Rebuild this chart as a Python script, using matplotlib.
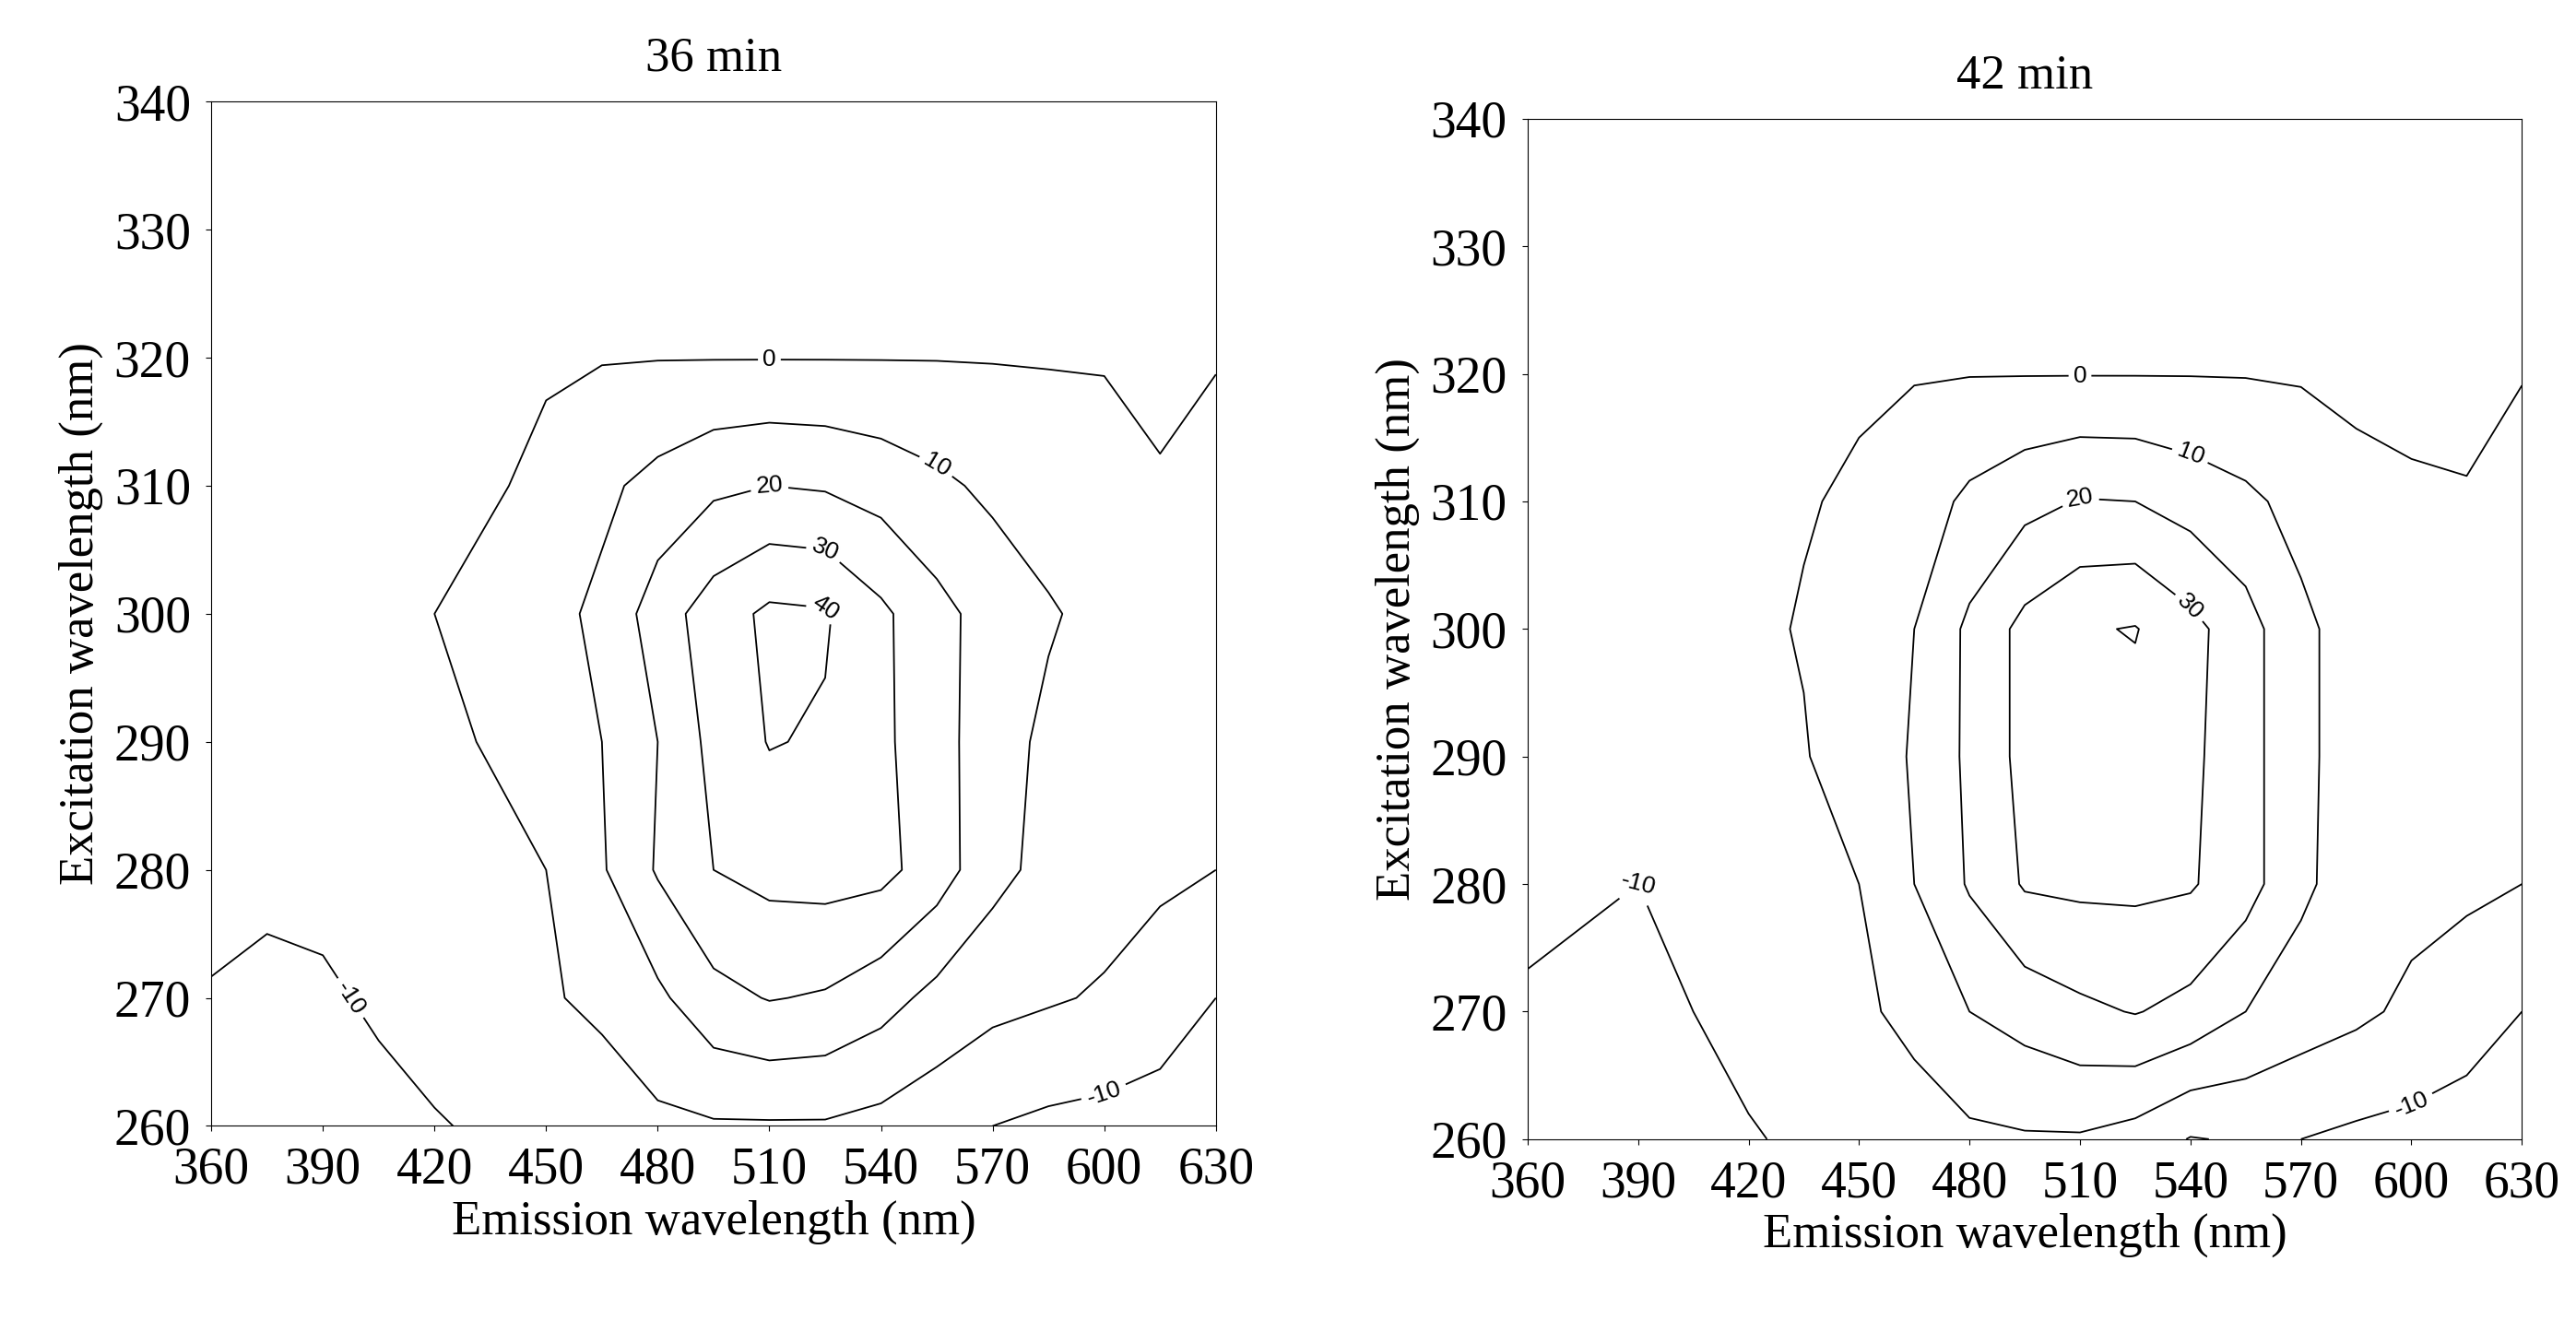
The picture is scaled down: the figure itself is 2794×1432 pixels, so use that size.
import matplotlib.pyplot as plt
import numpy as np

plt.rcParams['contour.negative_linestyle'] = 'solid'

# emission (x) and excitation (y) grid, nm
emission = [360, 375, 390, 405, 420, 435, 450, 465, 480, 495, 510, 525, 540, 555, 570, 585, 600, 615, 630]
excitation = [260, 270, 280, 290, 300, 310, 320, 330, 340]
levels = [-10, 0, 10, 20, 30, 40]

# 36 min, rows follow excitation
z_36 = [
    [-14, -14, -13, -12, -10.5, -9, -7, -5, -2, -1, -1, -1, -3, -6, -10, -12, -13, -14, -15],
    [-10.2, -11, -11, -9, -7, -4, -1, 2, 8, 17, 20.5, 19, 14, 7, 3, 1, -1, -5, -10],
    [-9, -9, -8, -6, -4, -2, 0, 9, 21, 30, 33, 34, 33, 25, 13, 7, 4, 2, 0],
    [-7, -6, -5, -3, -1.5, 0.5, 5, 10, 20, 33, 40.5, 39, 32, 24, 14, 8, 6, 5, 5],
    [-6, -5, -4, -2, 0, 3, 7, 12, 25, 35, 42, 41, 32, 23, 16, 11, 7, 5, 4],
    [-4, -3.5, -3, -2, -1, -1, 2, 8, 13, 18, 20, 19, 16, 12, 8, 5, 3, 1, 2],
    [-5, -5, -4.5, -4, -3, -2, -1, -0.5, -0.3, -0.3, -0.3, -0.3, -0.3, -0.3, -0.4, -0.5, -0.5, -3, -0.3],
    [-5, -5, -5, -5, -5, -5, -5, -5, -5, -5, -5, -5, -5, -5, -5, -5, -5, -5, -5],
    [-6, -6, -6, -6, -6, -6, -6, -6, -6, -6, -6, -6, -6, -6, -6, -6, -6, -6, -6],
]

# 42 min
z_42 = [
    [-14, -14, -13, -12, -10.5, -9, -7, -5, -2, -1, -1, -4, -10.5, -9, -10, -12, -13, -14, -15],
    [-10.5, -11, -12, -10, -8, -5, -2, 3, 10, 14, 18, 20.5, 17, 10, 5, 2, -2, -6, -10],
    [-9, -9.5, -10, -8, -5, -2.5, 0, 10, 21, 31, 32, 32, 31, 24, 12, 5, 3, 2, 0],
    [-7, -6, -5, -4, -2, -0.5, 4, 11, 22, 33, 36, 36, 32, 24, 12, 6, 4, 3, 3],
    [-6, -5, -4, -3, -1.5, 0.5, 5, 10, 22, 33, 39, 40.5, 33, 24, 12, 6, 4, 3, 3],
    [-4, -3.5, -3, -2.5, -2, -0.5, 1, 5, 12, 17, 20.5, 20, 16, 12, 7, 2, 1, 0.5, 2],
    [-5, -5, -4.5, -4, -3, -2, -1, -0.5, -0.3, -0.3, -0.3, -0.3, -0.3, -0.4, -0.8, -1.5, -2, -2, -0.2],
    [-5, -5, -5, -5, -5, -5, -5, -5, -5, -5, -5, -5, -5, -5, -5, -5, -5, -5, -5],
    [-6, -6, -6, -6, -6, -6, -6, -6, -6, -6, -6, -6, -6, -6, -6, -6, -6, -6, -6],
]

titles = ["36 min", "42 min"]
panels = [z_36, z_42]
positions = [[0.082, 0.147, 0.390, 0.776], [0.593, 0.137, 0.386, 0.773]]

serif = "Liberation Serif"
fig = plt.figure(figsize=(27.94, 14.32), dpi=100)

for z, title, pos in zip(panels, titles, positions):
    ax = fig.add_axes(pos)
    X, Y = np.meshgrid(emission, excitation)
    cs = ax.contour(X, Y, np.array(z), levels=levels, colors="black", linewidths=1.3)
    lbls = ax.clabel(cs, fmt="%d", fontsize=19, inline=True, inline_spacing=4)
    for t in lbls:
        t.set_family("Liberation Sans")
    ax.set_xlim(360, 630)
    ax.set_ylim(260, 340)
    ax.set_xticks(range(360, 631, 30))
    ax.set_yticks(range(260, 341, 10))
    ax.tick_params(labelsize=40, direction="out", length=4, pad=12)
    for lab in ax.get_xticklabels() + ax.get_yticklabels():
        lab.set_family(serif)
    ax.set_xlabel("Emission wavelength (nm)", fontsize=38, family=serif, labelpad=4)
    ax.set_ylabel("Excitation wavelength (nm)", fontsize=38, family=serif, labelpad=8)
    ax.set_title(title, fontsize=38, family=serif, pad=24)

fig.savefig("out.png", dpi=100)
